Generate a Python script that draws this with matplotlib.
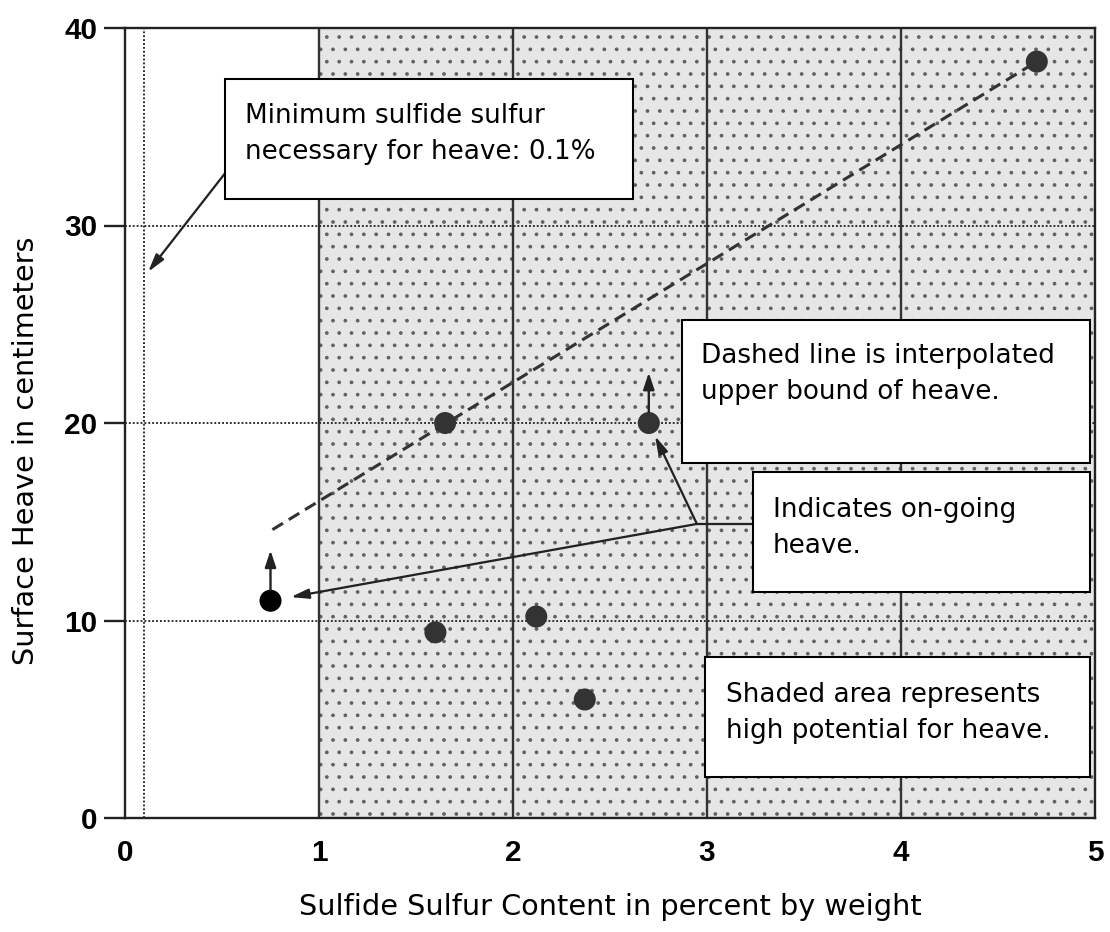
import numpy as np
import matplotlib
matplotlib.use("Agg")
import matplotlib.pyplot as plt
from matplotlib.patches import Rectangle

# ---------------------------------------------
# Data
# ---------------------------------------------
sulfur = [0.75, 1.60, 1.65, 2.12, 2.37, 2.70, 4.70]      # % by weight
heave = [11.0, 9.4, 20.0, 10.2, 6.0, 20.0, 38.3]          # cm
ongoing = [True, False, False, False, False, True, False]  # heave still going on

bound_x = [0.76, 4.70]     # dashed upper bound of heave
bound_y = [14.6, 38.3]

min_sulfur = 0.1           # minimum sulfide sulfur for heave
shade_start, shade_end = 1, 5
x_ticks = [0, 1, 2, 3, 4, 5]
y_ticks = [0, 10, 20, 30, 40]

note_min = ["Minimum sulfide sulfur", "necessary for heave: 0.1%"]
note_dash = ["Dashed line is interpolated", "upper bound of heave."]
note_ongoing = ["Indicates on-going", "heave."]
note_shade = ["Shaded area represents", "high potential for heave."]

# ---------------------------------------------
# Figure
# ---------------------------------------------
DPI = 74
plt.rcParams['hatch.linewidth'] = 1.2
fig = plt.figure(figsize=(1110 / DPI, 932 / DPI), dpi=DPI)
ax = fig.add_axes([125 / 1110, 1 - 818 / 932, 970 / 1110, 790 / 932])
ax.set_xlim(0, 5)
ax.set_ylim(0, 40)

dark = '#333333'
ink = '#222222'

# shaded (stippled) zone
ax.axvspan(shade_start, shade_end, facecolor='#e6e6e6', edgecolor='#606060',
           hatch='.', linewidth=0, zorder=0)

# grid lines
for xv in x_ticks[1:-1]:
    ax.axvline(xv, color=dark, lw=2.3, zorder=1)
for yv in y_ticks[1:-1]:
    ax.axhline(yv, color=ink, lw=1.8, ls=(0, (1, 1.1)), zorder=1)
ax.axvline(min_sulfur, color=ink, lw=1.8, ls=(0, (1, 1.1)), zorder=1)

# upper bound
ax.plot(bound_x, bound_y, color=dark, lw=3.0, ls=(0, (4.0, 2.2)), zorder=2)

# points
colors = ['black' if o and x < shade_start else dark for x, o in zip(sulfur, ongoing)]
ax.scatter(sulfur, heave, s=460, c=colors, zorder=4, linewidths=0)

# small up arrows for on-going heave
up_style = dict(arrowstyle='-|>,head_length=0.75,head_width=0.25', mutation_scale=18,
                lw=2.3, color=ink, shrinkA=0, shrinkB=0)
for x, y, o in zip(sulfur, heave, ongoing):
    if o:
        ax.annotate('', xy=(x, y + 2.55), xytext=(x, y + 0.55), arrowprops=up_style, zorder=5)

# callout arrows
call_style = dict(arrowstyle='-|>,head_length=0.8,head_width=0.22', mutation_scale=18,
                  lw=2.2, color=ink, shrinkA=0)
ax.annotate('', xy=(0.119, 27.65), xytext=(0.52, 32.7),
            arrowprops=dict(call_style, shrinkB=0), zorder=5)
junction = (2.948, 14.89)
on_idx = [i for i, o in enumerate(ongoing) if o]
for i, sh in zip(on_idx, [20, 14]):
    ax.annotate('', xy=(sulfur[i], heave[i]), xytext=junction,
                arrowprops=dict(call_style, shrinkB=sh), zorder=5)
ax.plot([junction[0], 3.3], [junction[1], junction[1]], color=ink, lw=2.2, zorder=5)

# text boxes
boxes = [
    (0.515, 31.34, 2.619, 37.42, 0.619, 35.19, note_min),
    (2.871, 17.97, 4.974, 25.22, 2.969, 23.04, note_dash),
    (3.237, 11.44, 4.974, 17.52, 3.340, 15.24, note_ongoing),
    (2.990, 2.08, 4.974, 8.15, 3.098, 5.87, note_shade),
]
for x0, y0, x1, y1, tx, ty, lines in boxes:
    ax.add_patch(Rectangle((x0, y0), x1 - x0, y1 - y0, facecolor='white',
                           edgecolor='black', lw=2.0, zorder=6))
    for k, line in enumerate(lines):
        ax.text(tx, ty - k * 1.823, line, fontsize=25.5, family='DejaVu Sans',
                va='baseline', ha='left', color='black', zorder=7)

# axes styling
for sp in ax.spines.values():
    sp.set_linewidth(2.3)
    sp.set_color(ink)
ax.set_xticks(x_ticks)
ax.set_yticks(y_ticks)
tick_font = dict(family=['Liberation Sans Narrow', 'Liberation Sans'], weight='bold', size=29)
ax.set_xticklabels([str(v) for v in x_ticks], fontdict=tick_font)
ax.set_yticklabels([str(v) for v in y_ticks], fontdict=tick_font)
ax.tick_params(axis='x', length=0, pad=20)
ax.tick_params(axis='y', direction='out', length=20, width=2.3, pad=7, color=ink)

ax.set_xlabel("Sulfide Sulfur Content in percent by weight", fontsize=28, family='DejaVu Sans')
ax.set_ylabel("Surface Heave in centimeters", fontsize=28, family='DejaVu Sans')
ax.xaxis.set_label_coords(0.5, -0.095)
ax.yaxis.set_label_coords(-0.088, 0.465)

fig.savefig("out.png", dpi=DPI)
